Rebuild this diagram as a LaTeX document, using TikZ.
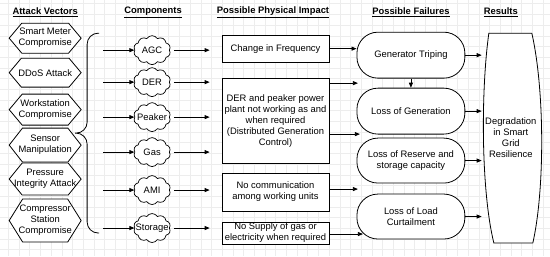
\documentclass[tikz,border=0pt]{standalone}
\usepackage{fontspec}
\setmainfont{Liberation Sans}
\usetikzlibrary{arrows.meta,shapes.symbols,calc}

\begin{document}
\begin{tikzpicture}[
  x=1pt, y=-1pt,
  every node/.style={font=\fontsize{9.4}{11}\selectfont, align=center},
  arr/.style={-{Triangle[length=5pt,width=4pt]}, line width=0.8pt},
  hdr/.style={font=\fontsize{9.4}{11}\selectfont\bfseries},
  hexa/.style={signal, signal to=east and west, signal pointer angle=100, draw, fill=white,
    line width=0.8pt, minimum width=72, minimum height=30, inner sep=0},
  comp/.style={cloud, cloud puffs=10, cloud puff arc=115, aspect=1.3, draw, fill=white,
    line width=0.7pt, minimum width=37, minimum height=29, inner sep=0},
  imp/.style={draw, fill=white, line width=0.8pt, minimum width=107, inner sep=1pt},
  fail/.style={draw, fill=white, line width=0.8pt, rounded corners=21, minimum width=108, minimum height=45},
  gridline/.style={gray!14, line width=0.4pt}
]
  % background and faint grid
  \fill[white] (0,0) rectangle (550,256);
  \foreach \gx in {8.1,18.8,...,550} \draw[gridline] (\gx,0) -- (\gx,256);
  \foreach \gy in {3.5,14.2,...,256} \draw[gridline] (0,\gy) -- (550,\gy);
  \useasboundingbox (0,0) rectangle (550,256);

  % column headers
  \node[hdr] (hav) at (45,12) {\underline{Attack Vectors}};
  \node[hdr] (hco) at (153,12) {\underline{Components}};
  \node[hdr] (hpi) at (273,12) {\underline{Possible Physical Impact}};
  \node[hdr] (hpf) at (411,12) {\underline{Possible Failures}};
  \node[hdr] (hre) at (501,12) {\underline{Results}};

  % attack vectors
  \node[hexa, label=center:{Smart Meter\\Compromise}] (smc) at (45,38) {};
  \node[hexa, minimum height=29, label=center:{DDoS Attack}] (dos) at (45,72.5) {};
  \node[hexa, minimum height=31, label=center:{Workstation\\Compromise}] (wsc) at (45,109.5) {};
  \node[hexa, minimum height=34, signal pointer angle=104, label=center:{Sensor\\Manipulation}] (sen) at (45,145) {};
  \node[hexa, minimum height=32, signal pointer angle=102, label=center:{Pressure\\Integrity Attack}] (pia) at (45,179) {};
  \node[hexa, minimum height=43, signal pointer angle=116, label=center:{Compressor\\Station\\Compromise}] (csc) at (45,220.5) {};

  % brace gathering the attack vectors
  \coordinate (bt) at (99,33);
  \coordinate (bm) at (75,133);
  \coordinate (bb) at (99,233);
  \coordinate (brx) at (103,0);
  \draw[line width=0.8pt, rounded corners=11] (bt) -| (87,133) -- (bm) (bm) -- (87,133) |- (bb);

  % components
  \node[comp, label=center:AGC] (agc) at (152,50) {};
  \node[comp, label=center:DER] (der) at (152,82) {};
  \node[comp, label=center:Peaker] (pkr) at (152,117) {};
  \node[comp, label=center:Gas] (gas) at (152,152) {};
  \node[comp, label=center:AMI] (ami) at (152,190) {};
  \node[comp, label=center:Storage] (sto) at (152,228) {};

  % physical impact
  \node[imp, minimum height=27] (chf) at (275.5,48.5) {Change in Frequency};
  \node[imp, minimum height=85] (dpp) at (275.5,120.5)
    {DER and peaker power\\plant not working as and\\when required\\(Distributed Generation\\Control)};
  \node[imp, minimum height=38] (cmm) at (275.5,192) {No communication\\among working units};
  \node[imp, minimum height=22, inner ysep=0] (sup) at (275.5,233) {No Supply of gas or\\electricity when required};

  % possible failures
  \node[fail, minimum height=46] (gt) at (411,55) {Generator Triping};
  \node[fail, minimum height=46] (lg) at (411,111) {Loss of Generation};
  \node[fail] (lr) at (411,160.5) {Loss of Reserve and\\storage capacity};
  \node[fail] (ll) at (411,216.5) {Loss of Load\\Curtailment};

  % result
  \draw[fill=white, line width=0.8pt] (489,33) -- (532,33) .. controls (545,90) and (545,190) .. (533,243)
    -- (494,243) .. controls (481,190) and (481,90) .. (489,33) -- cycle;
  \node[minimum width=52, minimum height=210] (res) at (511,138) {Degradation\\in Smart\\Grid\\Resilience};

  % brace to components
  \foreach \c in {agc,der,pkr,gas,ami,sto}
    \draw[arr] (\c.west -| brx) -- (\c.west);

  % components to impact
  \draw[arr, shorten <=4pt, shorten >=12pt] (agc.east) -- (agc.east -| chf.west);
  \draw[arr, shorten <=4pt, shorten >=12pt] (der.east) -- (der.east -| dpp.west);
  \draw[arr, shorten <=4pt, shorten >=12pt] (pkr.east) -- (pkr.east -| dpp.west);
  \draw[arr, shorten <=4pt, shorten >=12pt] (gas.east) -- (gas.east -| dpp.west);
  \draw[arr, shorten <=4pt, shorten >=12pt] (ami.east) -- (ami.east -| cmm.west);
  \draw[arr, shorten <=4pt, shorten >=12pt] (sto.east) -- (sto.east -| sup.west);

  % impact to failures
  \coordinate (g1) at (358,83);
  \coordinate (g2) at (360,134);
  \coordinate (g3) at (358,189);
  \coordinate (g4) at (363,234);
  \draw[arr] (chf.east) -- (chf.east -| gt.west);
  \draw[arr] (dpp.east |- g1) -- (g1);
  \draw[arr] (dpp.east |- g2) -- (g2);
  \draw[arr] (cmm.east |- g3) -- (g3);
  \draw[arr] (sup.east |- g4) -- (g4);
  \draw[arr] (gt) -- (lg);

  % failures to result
  \foreach \f in {gt,lg,lr,ll}
    \draw[arr] (\f.east) -- (\f.east -| res.west);
\end{tikzpicture}
\end{document}
